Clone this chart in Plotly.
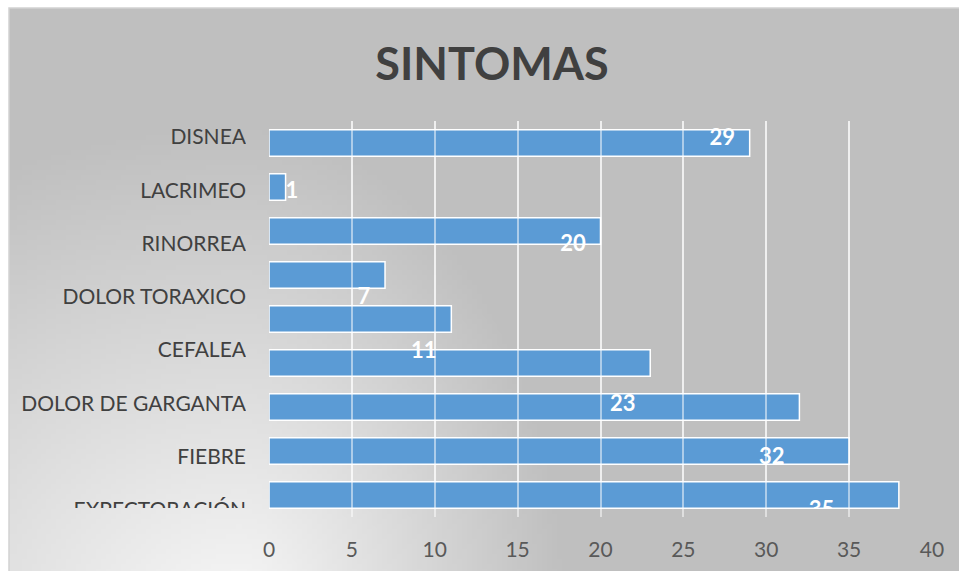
import base64
import struct
import zlib

import numpy as np
import plotly.graph_objects as go

# ---------------- data ----------------
categories = ["DISNEA", "LACRIMEO", "RINORREA", "DOLOR TORAXICO", "CEFALEA",
              "DOLOR DE GARGANTA", "FIEBRE", "EXPECTORACIÓN"]
label_values = [29, 1, 20, 7, 11, 23, 32, 35]
bar_values = [29, 1, 20, 7, 11, 23, 32, 35, 38]
x_ticks = [0, 5, 10, 15, 20, 25, 30, 35, 40]
title_text = "SINTOMAS"

W, H = 959, 571
FONT = "Lato, sans-serif"


def px_x(p):
    return p / W


def px_y(p):
    return 1 - p / H


# ---------------- background gradient (generated PNG) ----------------
def gradient_png():
    gw, gh = 190, 113
    x0, y0, x1, y1 = 9, 8, 959, 571
    xs = x0 + (np.arange(gw) + 0.5) * (x1 - x0) / gw
    ys = y0 + (np.arange(gh) + 0.5) * (y1 - y0) / gh
    X, Y = np.meshgrid(xs, ys)
    dx = X - 240
    ax = np.where(dx < 0, 600.0, 330.0)
    dy = 620 - Y
    d = np.clip(np.sqrt((dx / ax) ** 2 + (dy / 500.0) ** 2), 0, 1)
    val = (248 - 57 * d).astype(np.uint8)
    raw = b"".join(b"\x00" + row.tobytes() for row in val)

    def chunk(t, data):
        c = struct.pack(">I", len(data)) + t + data
        return c + struct.pack(">I", zlib.crc32(t + data) & 0xFFFFFFFF)

    png = (b"\x89PNG\r\n\x1a\n"
           + chunk(b"IHDR", struct.pack(">IIBBBBB", gw, gh, 8, 0, 0, 0, 0))
           + chunk(b"IDAT", zlib.compress(raw, 9))
           + chunk(b"IEND", b""))
    return "data:image/png;base64," + base64.b64encode(png).decode()


fig = go.Figure()

# bars (9 bars on a numeric band axis)
fig.add_trace(go.Bar(
    x=bar_values, y=list(range(len(bar_values))), orientation="h",
    width=0.6, marker=dict(color="#5b9bd5", line=dict(color="white", width=1.5)),
    xaxis="x", yaxis="y", hoverinfo="skip", showlegend=False,
))

# data labels (clipped to label band)
sizes = [22 if v >= 3 else 0 for v in label_values]
positions = ["middle left" if v >= 3 else "middle right" for v in label_values]
fig.add_trace(go.Scatter(
    x=label_values, y=categories, mode="markers+text",
    text=[str(v) for v in label_values], textposition=positions,
    marker=dict(size=sizes, color="rgba(0,0,0,0)", opacity=0, line=dict(width=0)),
    textfont=dict(family=FONT, size=22, color="white", weight="bold"),
    xaxis="x", yaxis="y2", cliponaxis=True, hoverinfo="skip", showlegend=False,
))

# category labels (clipped to label band)
fig.add_trace(go.Scatter(
    x=[1] * len(categories), y=categories, mode="text",
    text=categories, textposition="middle left",
    textfont=dict(family=FONT, size=21, color="#404040"),
    xaxis="x2", yaxis="y2", cliponaxis=True, hoverinfo="skip", showlegend=False,
))

fig.update_layout(
    width=W, height=H, autosize=False,
    margin=dict(l=0, r=0, t=0, b=0, pad=0, autoexpand=False),
    paper_bgcolor="white",
    plot_bgcolor="rgba(0,0,0,0)",
    title=dict(text=title_text, x=px_x(492), y=px_y(64), xanchor="center", yanchor="middle",
               font=dict(family=FONT, size=45, color="#404040", weight="bold")),
    xaxis=dict(domain=[px_x(269), px_x(932)], range=[0, 40], anchor="y", automargin=False,
               tickvals=x_ticks, ticktext=[str(t) for t in x_ticks],
               showgrid=True, gridcolor="rgba(255,255,255,0.5)", gridwidth=2,
               zeroline=True, zerolinecolor="rgba(0,0,0,0)",
               showline=False, ticks="outside", ticklen=14, tickcolor="rgba(0,0,0,0)",
               tickfont=dict(family=FONT, size=21, color="#595959"),
               fixedrange=True),
    yaxis=dict(domain=[px_y(517), px_y(121)], range=[len(bar_values) - 0.5, -0.5],
               visible=False, anchor="x", automargin=False, fixedrange=True),
    yaxis2=dict(domain=[px_y(508), px_y(121)], type="category",
                categoryorder="array", categoryarray=categories,
                range=[6.93, -0.34], visible=False, anchor="x2", automargin=False,
                fixedrange=True),
    xaxis2=dict(domain=[0, px_x(246)], range=[0, 1], visible=False, anchor="y2",
                automargin=False, fixedrange=True),
    images=[dict(source=gradient_png(), xref="paper", yref="paper",
                 x=px_x(9), y=px_y(8), sizex=(W - 9) / W, sizey=(H - 8) / H,
                 xanchor="left", yanchor="top", sizing="stretch", layer="below")],
    shapes=[dict(type="rect", xref="paper", yref="paper",
                 x0=px_x(9), x1=px_x(962), y0=px_y(574), y1=px_y(8),
                 line=dict(color="#d2d2d2", width=1.5), layer="below")],
)

post = (
    "document.documentElement.style.overflow='hidden';"
    "document.body.style.margin='0';document.body.style.overflow='hidden';"
)

fig.write_html(
    "out.html",
    config={"responsive": False, "displayModeBar": False},
    post_script=post,
)
